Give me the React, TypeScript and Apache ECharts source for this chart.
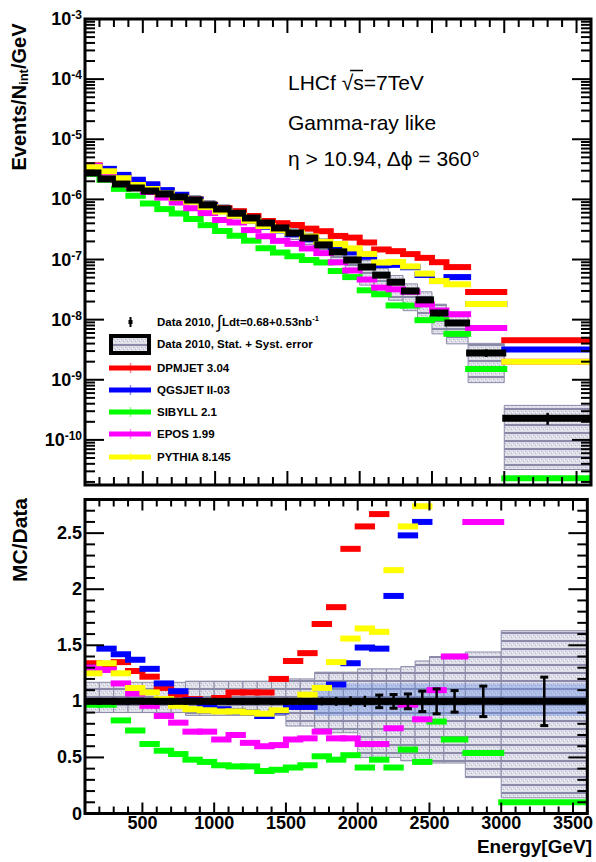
import React, { useEffect, useRef } from "react";
import * as echarts from "echarts";

// ---------------- data ----------------
const binLow = [100, 200, 300, 400, 500, 600, 700, 800, 900, 1000, 1100, 1200, 1300, 1400, 1500, 1600, 1700, 1800, 1900, 2000, 2100, 2200, 2300, 2400, 2500, 2600, 2750, 3000];
const binHigh = [200, 300, 400, 500, 600, 700, 800, 900, 1000, 1100, 1200, 1300, 1400, 1500, 1600, 1700, 1800, 1900, 2000, 2100, 2200, 2300, 2400, 2500, 2600, 2750, 3000, 3600];

// Data 2010 spectrum (Events/N_int/GeV)
const dataFlux = [2.75e-6, 2.19e-6, 1.8e-6, 1.55e-6, 1.38e-6, 1.23e-6, 1.1e-6, 9.8e-7, 8.1e-7, 6.9e-7, 5.9e-7, 4.9e-7, 4.05e-7, 3.35e-7, 2.76e-7, 2.28e-7, 1.75e-7, 1.34e-7, 9.8e-8, 7.5e-8, 5.5e-8, 4.2e-8, 3.0e-8, 2.13e-8, 1.29e-8, 8.8e-9, 2.8e-9, 2.3e-10];
// relative statistical error of data
const dataStatErr = [0.01, 0.01, 0.01, 0.01, 0.01, 0.015, 0.015, 0.015, 0.02, 0.02, 0.02, 0.02, 0.025, 0.025, 0.03, 0.03, 0.035, 0.04, 0.045, 0.05, 0.065, 0.07, 0.075, 0.1, 0.12, 0.105, 0.145, 0.225];
// Stat.+Syst. band (relative to data)
const systUpper = [1.17, 1.17, 1.17, 1.17, 1.17, 1.17, 1.17, 1.18, 1.18, 1.18, 1.18, 1.18, 1.18, 1.18, 1.2, 1.2, 1.26, 1.26, 1.26, 1.29, 1.29, 1.29, 1.31, 1.36, 1.4, 1.42, 1.44, 1.63];
const systLower = [0.9, 0.9, 0.9, 0.9, 0.9, 0.9, 0.9, 0.875, 0.875, 0.875, 0.875, 0.875, 0.875, 0.875, 0.78, 0.78, 0.72, 0.72, 0.72, 0.5, 0.5, 0.5, 0.47, 0.47, 0.45, 0.45, 0.32, 0.14];
// light blue band around 1 in the ratio panel
const blueBandLow = [null, null, null, null, null, null, null, null, null, null, null, null, null, null, null, null, 0.87, 0.87, 0.87, 0.87, 0.87, 0.87, 0.87, 0.87, 0.87, 0.87, 0.87, 0.87];
const blueBandHigh = [null, null, null, null, null, null, null, null, null, null, null, null, null, null, null, null, 1.16, 1.16, 1.16, 1.16, 1.16, 1.16, 1.16, 1.16, 1.16, 1.16, 1.16, 1.16];

// MC / Data ratios
const ratioDPMJET = [1.34, 1.31, 1.35, 1.27, 1.22, 1.12, 1.06, 1.02, 1.0, 1.03, 1.08, 1.08, 1.08, 1.2, 1.36, 1.43, 1.69, 1.84, 2.36, 2.56, 2.67, 3.28, 4.1, 5.0, 7.0, 8.5, 10.3, 19.8];
const ratioQGSJET = [1.3, 1.47, 1.42, 1.37, 1.29, 1.16, 1.09, 1.01, 0.97, 0.93, 0.91, 0.9, 0.87, 0.91, 0.95, 0.95, 1.0, 1.15, 1.34, 1.48, 1.47, 1.94, 2.48, 2.6, 3.4, 5.8, 6.5, 13.8];
const ratioSIBYLL = [0.97, 0.97, 0.83, 0.74, 0.62, 0.56, 0.53, 0.48, 0.46, 0.43, 0.42, 0.42, 0.38, 0.39, 0.41, 0.43, 0.51, 0.48, 0.52, 0.41, 0.48, 0.41, 0.57, 0.46, 0.82, 0.66, 0.54, 0.1];
const ratioEPOS = [1.3, 1.28, 1.16, 1.07, 0.96, 0.87, 0.81, 0.73, 0.73, 0.66, 0.7, 0.63, 0.6, 0.61, 0.66, 0.67, 0.73, 0.67, 0.67, 0.62, 0.62, 0.76, 0.97, 0.84, 1.1, 1.4, 2.6, 8.7];
const ratioPYTHIA = [1.25, 1.34, 1.25, 1.12, 1.08, 1.02, 0.96, 0.93, 0.92, 0.91, 0.91, 0.9, 0.89, 0.92, 1.0, 1.06, 1.12, 1.35, 1.56, 1.65, 1.62, 2.17, 2.56, 2.74, 3.4, 4.4, 6.5, 8.7];

const modelNames = ["DPMJET 3.04", "QGSJET II-03", "SIBYLL 2.1", "EPOS 1.99", "PYTHIA 8.145"];
const modelColors = ["#ff0000", "#0000ff", "#00ff00", "#ff00ff", "#ffff00"];
const modelRatios = [ratioDPMJET, ratioQGSJET, ratioSIBYLL, ratioEPOS, ratioPYTHIA];

const xMajorTicks = [500, 1000, 1500, 2000, 2500, 3000, 3500];
const logMajorTicks = [1e-10, 1e-9, 1e-8, 1e-7, 1e-6, 1e-5, 1e-4, 1e-3];
const ratioMajorTicks = [0, 0.5, 1, 1.5, 2, 2.5];

const X_MIN = 100;
const X_MAX = 3600;
const LOG_MIN = 1.778e-11;
const LOG_MAX = 1e-3;
const R_MIN = 0;
const R_MAX = 2.8;

const FONT = '"Liberation Sans", Arial, Helvetica, sans-serif';

// ---------------- helpers ----------------
function makeHatch(): HTMLCanvasElement {
  const c = document.createElement("canvas");
  c.width = 4;
  c.height = 8;
  const g = c.getContext("2d")!;
  g.fillStyle = "#dedee8";
  g.fillRect(0, 0, 4, 8);
  g.fillStyle = "#f6f6fa";
  g.fillRect(0, 4, 1, 1);
  g.fillRect(2, 6, 1, 1);
  g.fillStyle = "#b8b8c8";
  g.fillRect(1, 3, 1, 1);
  g.fillRect(3, 5, 1, 1);
  g.fillStyle = "#8a8aa8";
  g.fillRect(0, 0, 4, 2);
  return c;
}

function clip(params: any, r: any) {
  const cs = params.coordSys;
  const out = echarts.graphic.clipRectByRect(r, { x: cs.x, y: cs.y, width: cs.width, height: cs.height });
  if (!out || out.width <= 0 || out.height <= 0) return null;
  return out;
}

function barRender(color: string, half: number) {
  return (params: any, api: any) => {
    const lo = api.value(0), hi = api.value(1), v = api.value(2);
    const a = api.coord([lo, v]);
    const b = api.coord([hi, v]);
    const r = clip(params, { x: a[0] - 3, y: a[1] - half, width: b[0] - a[0] + 6, height: half * 2 });
    if (!r) return null;
    return { type: "rect", shape: r, style: { fill: color } };
  };
}

function boxRender(fill: any, stroke: string | null) {
  return (params: any, api: any) => {
    const lo = api.value(0), hi = api.value(1), yl = api.value(2), yh = api.value(3);
    const a = api.coord([lo, yh]);
    const b = api.coord([hi, yl]);
    const r = clip(params, { x: a[0], y: a[1], width: b[0] - a[0], height: b[1] - a[1] });
    if (!r) return null;
    return { type: "rect", shape: r, style: { fill, stroke: stroke || undefined, lineWidth: stroke ? 1 : 0 } };
  };
}

function dataRender(params: any, api: any) {
  const lo = api.value(0), hi = api.value(1), v = api.value(2), e1 = api.value(3), e2 = api.value(4);
  const a = api.coord([lo, v]);
  const b = api.coord([hi, v]);
  const cx = (a[0] + b[0]) / 2;
  const top = api.coord([lo, e2])[1];
  const bot = api.coord([lo, e1])[1];
  const children: any[] = [];
  const r = clip(params, { x: a[0] - 2, y: a[1] - 3.5, width: b[0] - a[0] + 4, height: 7 });
  if (r) children.push({ type: "rect", shape: r, style: { fill: "#000" } });
  children.push({ type: "line", shape: { x1: cx, y1: top, x2: cx, y2: bot }, style: { stroke: "#000", lineWidth: 2.5 } });
  if (bot - top > 12) {
    children.push({ type: "line", shape: { x1: cx - 4, y1: top + 1, x2: cx + 4, y2: top + 1 }, style: { stroke: "#000", lineWidth: 3 } });
    children.push({ type: "line", shape: { x1: cx - 4, y1: bot - 1, x2: cx + 4, y2: bot - 1 }, style: { stroke: "#000", lineWidth: 3 } });
  }
  return { type: "group", children };
}

function tickRender(len: { xMaj: number; xMin: number; yMaj: number; yMin: number }) {
  return (params: any, api: any) => {
    const cs = params.coordSys;
    const kind = api.value(2);
    const p = api.coord([api.value(0), api.value(1)]);
    const st = { stroke: "#000", lineWidth: 2 };
    if (kind === 4) {
      return { type: "rect", shape: { x: cs.x, y: cs.y, width: cs.width, height: cs.height }, style: { fill: "none", stroke: "#000", lineWidth: 3 } };
    }
    if (kind === 0 || kind === 1) {
      const L = kind === 0 ? len.xMaj : len.xMin;
      const yb = cs.y + cs.height;
      return {
        type: "group",
        children: [
          { type: "line", shape: { x1: p[0], y1: yb, x2: p[0], y2: yb - L }, style: st },
          { type: "line", shape: { x1: p[0], y1: cs.y, x2: p[0], y2: cs.y + L }, style: st },
        ],
      };
    }
    const L = kind === 2 ? len.yMaj : len.yMin;
    const xr = cs.x + cs.width;
    return {
      type: "group",
      children: [
        { type: "line", shape: { x1: cs.x, y1: p[1], x2: cs.x + L, y2: p[1] }, style: st },
        { type: "line", shape: { x1: xr, y1: p[1], x2: xr - L, y2: p[1] }, style: st },
      ],
    };
  };
}

export default function App() {
  const ref = useRef<HTMLDivElement>(null);

  useEffect(() => {
    if (!ref.current) return;
    const chart = echarts.init(ref.current, null, { renderer: "svg" });
    const hatch: any = { image: makeHatch(), repeat: "repeat" };

    // tick value lists
    const xMinorTicks: number[] = [];
    for (let e = 200; e <= 3500; e += 100) if (xMajorTicks.indexOf(e) < 0) xMinorTicks.push(e);
    const logMinorTicks: number[] = [];
    for (let k = -11; k <= -4; k++) for (let m = 2; m <= 9; m++) {
      const v = m * Math.pow(10, k);
      if (v >= LOG_MIN && v <= LOG_MAX) logMinorTicks.push(v);
    }
    const ratioMinorTicks: number[] = [];
    for (let k = 1; k <= 27; k++) if (k % 5 !== 0) ratioMinorTicks.push(k / 10);

    const topTicks: any[] = [
      ...xMajorTicks.map((e) => [e, 1e-5, 0]),
      ...xMinorTicks.map((e) => [e, 1e-5, 1]),
      ...logMajorTicks.map((v) => [1000, v, 2]),
      ...logMinorTicks.map((v) => [1000, v, 3]),
      [1000, 1e-5, 4],
    ];
    const botTicks: any[] = [
      ...xMajorTicks.map((e) => [e, 1, 0]),
      ...xMinorTicks.map((e) => [e, 1, 1]),
      ...ratioMajorTicks.map((v) => [1000, v, 2]),
      ...ratioMinorTicks.map((v) => [1000, v, 3]),
      [1000, 1, 4],
    ];

    const series: any[] = [];
    // syst boxes
    series.push({
      type: "custom", name: "systTop", xAxisIndex: 0, yAxisIndex: 0, z: 1,
      data: binLow.map((lo, i) => [lo, binHigh[i], dataFlux[i] * systLower[i], dataFlux[i] * systUpper[i]]),
      encode: { x: [0, 1], y: [2, 3] },
      renderItem: boxRender(hatch, "#8a8aa8"),
    });
    series.push({
      type: "custom", name: "systRatio", xAxisIndex: 1, yAxisIndex: 1, z: 1,
      data: binLow.map((lo, i) => [lo, binHigh[i], systLower[i], systUpper[i]]),
      encode: { x: [0, 1], y: [2, 3] },
      renderItem: boxRender(hatch, "#8a8aa8"),
    });
    series.push({
      type: "custom", name: "blueBand", xAxisIndex: 1, yAxisIndex: 1, z: 1,
      data: binLow
        .map((lo, i) => (blueBandLow[i] == null ? null : [lo, binHigh[i], blueBandLow[i], blueBandHigh[i]]))
        .filter((d) => d !== null),
      encode: { x: [0, 1], y: [2, 3] },
      renderItem: boxRender("rgba(100,140,225,0.38)", null),
    });
    // models
    modelRatios.forEach((ratios, m) => {
      series.push({
        type: "custom", name: modelNames[m] + " top", xAxisIndex: 0, yAxisIndex: 0, z: 3,
        data: ratios.map((r, i) => [binLow[i], binHigh[i], dataFlux[i] * r]),
        encode: { x: [0, 1], y: 2 },
        renderItem: barRender(modelColors[m], 3),
      });
      series.push({
        type: "custom", name: modelNames[m] + " ratio", xAxisIndex: 1, yAxisIndex: 1, z: 3,
        data: ratios.map((r, i) => [binLow[i], binHigh[i], r]),
        encode: { x: [0, 1], y: 2 },
        renderItem: barRender(modelColors[m], 3),
      });
    });
    // data
    series.push({
      type: "custom", name: "dataTop", xAxisIndex: 0, yAxisIndex: 0, z: 5,
      data: binLow.map((lo, i) => [lo, binHigh[i], dataFlux[i], dataFlux[i] * (1 - dataStatErr[i]), dataFlux[i] * (1 + dataStatErr[i])]),
      encode: { x: [0, 1], y: [2, 3, 4] },
      renderItem: dataRender,
    });
    series.push({
      type: "custom", name: "dataRatio", xAxisIndex: 1, yAxisIndex: 1, z: 5,
      data: binLow.map((lo, i) => [lo, binHigh[i], 1, 1 - dataStatErr[i], 1 + dataStatErr[i]]),
      encode: { x: [0, 1], y: [2, 3, 4] },
      renderItem: dataRender,
    });
    // ticks + frames
    series.push({
      type: "custom", name: "ticksTop", xAxisIndex: 0, yAxisIndex: 0, z: 10, silent: true,
      data: topTicks, encode: { x: 0, y: 1 },
      renderItem: tickRender({ xMaj: 14, xMin: 8, yMaj: 19, yMin: 10 }),
    });
    series.push({
      type: "custom", name: "ticksBottom", xAxisIndex: 1, yAxisIndex: 1, z: 10, silent: true,
      data: botTicks, encode: { x: 0, y: 1 },
      renderItem: tickRender({ xMaj: 11, xMin: 7, yMaj: 19, yMin: 10 }),
    });

    const legendRows = [322, 344, 368, 390, 412, 434, 457];
    const LFONT = `bold 11.5px ${FONT}`;
    const graphics: any[] = [];
    // legend: data marker
    graphics.push({ type: "line", shape: { x1: 130.5, y1: 317, x2: 130.5, y2: 327 }, style: { stroke: "#000", lineWidth: 2 } });
    graphics.push({ type: "rect", shape: { x: 128.5, y: 320, width: 4, height: 4 }, style: { fill: "#000" } });
    graphics.push({
      type: "text", x: 157, y: legendRows[0],
      style: {
        text: "{a|Data 2010, }{i|∫}{a|Ldt=0.68+0.53nb}{s|-1}",
        textVerticalAlign: "middle",
        rich: {
          a: { fontFamily: FONT, fontWeight: "bold", fontSize: 11.5, fill: "#000", lineHeight: 15 },
          i: { fontFamily: FONT, fontSize: 18, fill: "#000", lineHeight: 15 },
          s: { fontFamily: FONT, fontWeight: "bold", fontSize: 7.5, fill: "#000", verticalAlign: "top", lineHeight: 7 },
        },
      },
    });
    // legend: syst box
    graphics.push({ type: "rect", shape: { x: 111, y: 336, width: 38, height: 17 }, style: { fill: hatch, stroke: "#000", lineWidth: 4 } });
    graphics.push({
      type: "text", x: 157, y: legendRows[1],
      style: { text: "Data 2010, Stat. + Syst. error", font: LFONT, fill: "#000", textVerticalAlign: "middle" },
    });
    modelNames.forEach((n, m) => {
      const y = legendRows[m + 2];
      graphics.push({ type: "rect", shape: { x: 109, y: y - 2.5, width: 42, height: 5 }, style: { fill: modelColors[m] } });
      graphics.push({ type: "line", shape: { x1: 130.5, y1: y - 5, x2: 130.5, y2: y + 5 }, style: { stroke: modelColors[m], lineWidth: 1.5, opacity: 0.45 } });
      graphics.push({
        type: "text", x: 157, y,
        style: { text: n, font: LFONT, fill: "#000", textVerticalAlign: "middle" },
      });
    });
    // annotations
    graphics.push({ type: "text", x: 288, y: 82, style: { text: "LHCf √s=7TeV", font: `21px ${FONT}`, fill: "#000", textVerticalAlign: "middle" } });
    graphics.push({ type: "line", shape: { x1: 350, y1: 70.5, x2: 363, y2: 70.5 }, style: { stroke: "#000", lineWidth: 1.5 } });
    graphics.push({ type: "text", x: 288, y: 122, style: { text: "Gamma-ray like", font: `21px ${FONT}`, fill: "#000", textVerticalAlign: "middle" } });
    graphics.push({ type: "text", x: 288, y: 158, style: { text: "η > 10.94, Δϕ = 360°", font: `21px ${FONT}`, fill: "#000", textVerticalAlign: "middle" } });
    // axis titles
    graphics.push({
      type: "text", x: 19, y: 97, rotation: Math.PI / 2,
      style: {
        text: "{a|Events/N}{b|int}{a|/GeV}",
        textAlign: "center", textVerticalAlign: "middle",
        rich: {
          a: { fontFamily: FONT, fontWeight: "bold", fontSize: 20, fill: "#000", lineHeight: 22 },
          b: { fontFamily: FONT, fontWeight: "bold", fontSize: 13, fill: "#000", verticalAlign: "bottom", lineHeight: 13 },
        },
      },
    });
    graphics.push({
      type: "text", x: 19.5, y: 540, rotation: Math.PI / 2,
      style: { text: "MC/Data", font: `bold 21px ${FONT}`, fill: "#000", textAlign: "center", textVerticalAlign: "middle" },
    });
    graphics.push({
      type: "text", x: 592, y: 846,
      style: { text: "Energy[GeV]", font: `bold 19px ${FONT}`, fill: "#000", textAlign: "right", textVerticalAlign: "middle" },
    });

    const hidden = { show: false };
    chart.setOption({
      animation: false,
      backgroundColor: "#ffffff",
      grid: [
        { left: 85, top: 19, width: 506, height: 466, show: false },
        { left: 85, top: 499.5, width: 506, height: 314, show: false },
      ],
      xAxis: [
        { type: "value", gridIndex: 0, min: X_MIN, max: X_MAX, interval: 100, axisLine: hidden, axisTick: hidden, axisLabel: hidden, splitLine: hidden },
        {
          type: "value", gridIndex: 1, min: X_MIN, max: X_MAX, interval: 100, axisLine: hidden, axisTick: hidden, splitLine: hidden,
          axisLabel: {
            margin: 0, color: "#000", fontFamily: FONT, fontWeight: "bold", fontSize: 18,
            formatter: (v: number) => (xMajorTicks.indexOf(Math.round(v)) >= 0 ? String(Math.round(v)) : ""),
          },
        },
      ],
      yAxis: [
        {
          type: "log", logBase: 10, gridIndex: 0, min: LOG_MIN, max: LOG_MAX, axisLine: hidden, axisTick: hidden, splitLine: hidden,
          axisLabel: {
            margin: 3, color: "#000",
            formatter: (v: number) => {
              const e = Math.log10(v);
              const r = Math.round(e);
              if (Math.abs(e - r) > 1e-3) return "";
              return `{b|10}{s|${r}}`;
            },
            rich: {
              b: { fontFamily: FONT, fontWeight: "bold", fontSize: 18, lineHeight: 20, color: "#000" },
              s: { fontFamily: FONT, fontWeight: "bold", fontSize: 12, lineHeight: 12, color: "#000", verticalAlign: "top" },
            },
          },
        },
        {
          type: "value", gridIndex: 1, min: R_MIN, max: R_MAX, interval: 0.1, axisLine: hidden, axisTick: hidden, splitLine: hidden,
          axisLabel: {
            margin: 3, color: "#000", fontFamily: FONT, fontWeight: "bold", fontSize: 18,
            formatter: (v: number) => {
              const t = Math.round(v * 10) / 10;
              return ratioMajorTicks.indexOf(t) >= 0 ? String(t) : "";
            },
          },
        },
      ],
      series,
      graphic: graphics,
    });

    return () => chart.dispose();
  }, []);

  return <div ref={ref} style={{ position: "absolute", left: 0, top: 0, width: 596, height: 862, background: "#fff" }} />;
}
